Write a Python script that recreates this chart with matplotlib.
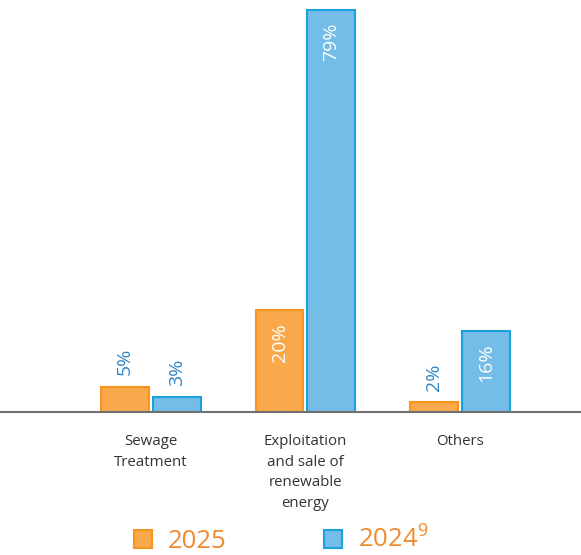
import matplotlib
matplotlib.use("Agg")
import matplotlib.pyplot as plt
from matplotlib.patches import Patch
import numpy as np

plt.rcParams['font.family'] = ['Open Sans', 'DejaVu Sans']
plt.rcParams['mathtext.fontset'] = 'custom'
plt.rcParams['mathtext.rm'] = 'Open Sans'
plt.rcParams['mathtext.it'] = 'Open Sans'

categories = ["Sewage\nTreatment", "Exploitation\nand sale of\nrenewable\nenergy", "Others"]
series_names = ["2025", "2024$^{\\mathrm{9}}$"]
values_2025 = [5, 20, 2]
values_2024 = [3, 79, 16]
labels_2025 = ["5%", "20%", "2%"]
labels_2024 = ["3%", "79%", "16%"]

orange_fill, orange_edge = "#F9A94B", "#F7941D"
blue_fill, blue_edge = "#73BDE8", "#1BA1DC"
label_blue = "#2E86C8"
legend_text = "#F08A2E"

fig = plt.figure(figsize=(5.81, 5.55), dpi=100)
ax = fig.add_axes([0, (555-412)/555, 1, 412/555])

x = np.arange(len(categories))
w = 0.31
off = 0.168
b1 = ax.bar(x - off, values_2025, w, color=orange_fill, edgecolor=orange_edge, linewidth=1.5)
b2 = ax.bar(x + off, values_2024, w, color=blue_fill, edgecolor=blue_edge, linewidth=1.5)

ax.set_xlim(-0.977, 2.783)
ax.set_ylim(0, 81)

def annotate(bars, vals, labels):
    for rect, v, lab in zip(bars, vals, labels):
        cx = rect.get_x() + rect.get_width() / 2
        if v >= 10:
            ax.annotate(lab, (cx, v), xytext=(0, -9), textcoords="offset points",
                        rotation=90, ha="center", va="top", color="white", fontsize=14)
        else:
            ax.annotate(lab, (cx, v), xytext=(0, 8), textcoords="offset points",
                        rotation=90, ha="center", va="bottom", color=label_blue, fontsize=14)

annotate(b1, values_2025, labels_2025)
annotate(b2, values_2024, labels_2024)

for s in ["top", "left", "right"]:
    ax.spines[s].set_visible(False)
ax.spines["bottom"].set_color("#707070")
ax.spines["bottom"].set_linewidth(1.5)
ax.set_yticks([])
ax.set_xticks(x)
ax.set_xticklabels(categories, fontsize=10.8, color="#333333", linespacing=1.5, va="top")
ax.tick_params(axis="x", length=0, pad=16)

handles = [Patch(facecolor=orange_fill, edgecolor=orange_edge, linewidth=1.5),
           Patch(facecolor=blue_fill, edgecolor=blue_edge, linewidth=1.5)]
leg = fig.legend(handles, series_names, loc="center", bbox_to_anchor=(0.484, 0.027), ncol=2,
                 frameon=False, fontsize=18.5, handlelength=0.7, handleheight=0.7,
                 columnspacing=3.8, handletextpad=0.6)
for t in leg.get_texts():
    t.set_color(legend_text)

fig.savefig("out.png", dpi=100)
